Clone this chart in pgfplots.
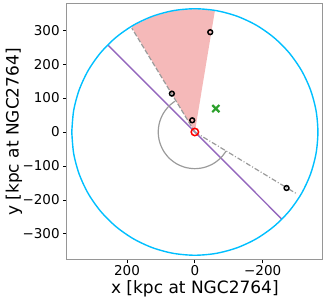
\documentclass[border=0pt]{standalone}
\usepackage{pgfplots}
\pgfplotsset{compat=1.18}
\usepackage{fontspec}
\setmainfont{DejaVu Sans}
\definecolor{ccyan}{RGB}{0,191,255}
\definecolor{cpurple}{RGB}{148,103,189}
\definecolor{cgreen}{RGB}{44,160,44}
\definecolor{cpink}{RGB}{245,185,185}
\definecolor{cframe}{RGB}{150,150,150}
\definecolor{cline}{RGB}{155,155,155}
\begin{document}
\begin{tikzpicture}
\begin{axis}[
  scale only axis, width=256.3pt, height=256pt,
  xmin=-378, xmax=378, ymin=-377, ymax=377, x dir=reverse,
  xtick={-200,0,200}, xticklabels={−200,0,200},
  ytick={-300,-200,-100,0,100,200,300},
  yticklabels={−300,−200,−100,0,100,200,300},
  tick align=outside, tick pos=left, major tick length=3.5pt,
  tick style={black, line width=0.8pt},
  axis line style={cframe, line width=1pt},
  ticklabel style={font=\fontsize{13.5}{15}\selectfont},
  xticklabel style={inner sep=1.5pt},
  label style={font=\fontsize{17}{20}\selectfont},
  xlabel={x [kpc at NGC2764]}, ylabel={y [kpc at NGC2764]},
  xlabel style={at={(axis description cs:0.5,-0.112)}, anchor=center},
  ylabel style={at={(axis description cs:-0.206,0.5)}, anchor=center},
  clip=false,
]
% wedge
\addplot[fill=cpink, draw=none] coordinates {(0,0) (187,310) (123.8,340.2) (62.9,356.5) (0,362) (-59.1,357.2) (0,0)};
% purple line
\addplot[cpurple, line width=1.4pt] coordinates {(256,256) (-256,-256)};
% gray dashed wedge edge
\addplot[cline, line width=1.2pt, dash pattern=on 5pt off 2pt] coordinates {(0,0) (186,306)};
% gray dash-dot line
\addplot[cline, line width=1.2pt, dash pattern=on 5pt off 2pt on 1pt off 2pt] coordinates {(0,0) (-302,-183)};
% gray arc
\addplot[cline, line width=1.2pt, smooth] coordinates {(58.8,90.6) (76.4,76.4) (93.5,54) (104.3,28) (108,0) (104.3,-28) (93.5,-54) (76.4,-76.4) (54,-93.5) (28,-104.3) (0,-108) (-28,-104.3) (-54,-93.5) (-76.4,-76.4) (-92.6,-55.6)};
% cyan circle
\addplot[ccyan, line width=1.4pt, smooth] coordinates {(363,0)(357.5,63)(341.1,124.2)(314.4,181.5)(278.1,233.3)(233.3,278.1)(181.5,314.4)(124.2,341.1)(63,357.5)(0,363)(-63,357.5)(-124.2,341.1)(-181.5,314.4)(-233.3,278.1)(-278.1,233.3)(-314.4,181.5)(-341.1,124.2)(-357.5,63)(-363,0)(-357.5,-63)(-341.1,-124.2)(-314.4,-181.5)(-278.1,-233.3)(-233.3,-278.1)(-181.5,-314.4)(-124.2,-341.1)(-63,-357.5)(0,-363)(63,-357.5)(124.2,-341.1)(181.5,-314.4)(233.3,-278.1)(278.1,-233.3)(314.4,-181.5)(341.1,-124.2)(357.5,-63)(363,0)};
% markers
\addplot[only marks, mark=o, mark size=2.4pt, black, mark options={line width=1.5pt}] coordinates {(-45.4,294) (67.8,113) (7.7,34.5) (-270.5,-165)};
\addplot[only marks, mark=o, mark size=3.7pt, red, mark options={line width=1.5pt}] coordinates {(0,0)};
\addplot[only marks, mark=x, mark size=5pt, cgreen, mark options={line width=2.2pt}] coordinates {(-62,69)};
\end{axis}
\path (current axis.south west) ++(-66.7pt,-42pt);
\path (current axis.north east) ++(4pt,4pt);
\end{tikzpicture}
\end{document}
